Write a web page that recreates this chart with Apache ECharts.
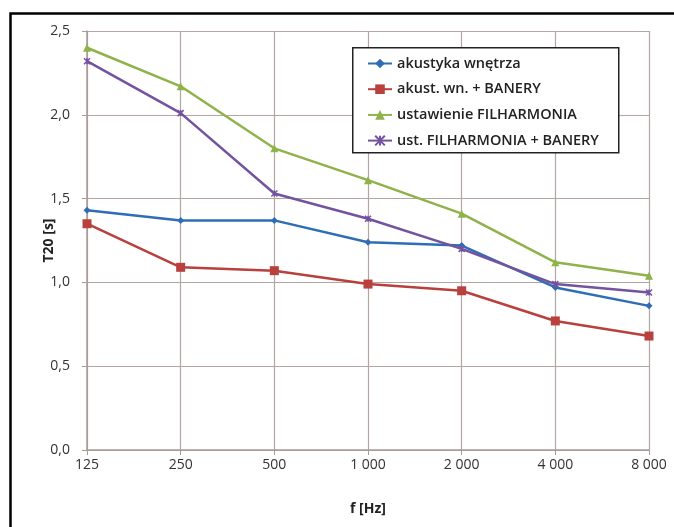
<!DOCTYPE html>
<html>
<head>
<meta charset="utf-8">
<script src="https://cdn.jsdelivr.net/npm/echarts@6/dist/echarts.min.js"></script>
<style>html,body{margin:0;padding:0;background:#fff}#c{width:674px;height:527px}</style>
</head>
<body>
<div id="c"></div>
<script>
const categories = ['125', '250', '500', '1 000', '2 000', '4 000', '8 000'];
const seriesNames = ['akustyka wnętrza', 'akust. wn. + BANERY', 'ustawienie FILHARMONIA', 'ust. FILHARMONIA + BANERY'];
const akustyka = [1.43, 1.37, 1.37, 1.24, 1.22, 0.97, 0.86];
const akustBanery = [1.35, 1.09, 1.07, 0.99, 0.95, 0.77, 0.68];
const filharmonia = [2.40, 2.17, 1.80, 1.61, 1.41, 1.12, 1.04];
const filharmoniaBanery = [2.32, 2.01, 1.53, 1.38, 1.20, 0.99, 0.94];

const colors = ['#2f6db5', '#b8413d', '#8fb24a', '#7352a0'];
const symbols = ['diamond', 'rect', 'triangle', 'path://M0,0L10,10M10,0L0,10M5,0L5,10'];
const sizes = [7, 9, 8, 6];
const dataSets = [akustyka, akustBanery, filharmonia, filharmoniaBanery];
const font = 'Open Sans';

const chart = echarts.init(document.getElementById('c'));
chart.setOption({
  animation: false,
  backgroundColor: '#fff',
  textStyle: { fontFamily: font },
  graphic: [{
    type: 'rect', left: 8, top: 11, shape: { width: 700, height: 600 },
    style: { fill: 'none', stroke: '#000', lineWidth: 2.5 }, z: 100
  }, {
    type: 'rect', left: 352, top: 47, shape: { width: 266, height: 105 },
    style: { fill: '#fff', stroke: '#222', lineWidth: 1.5 }, z: 50
  }],
  grid: { left: 87, right: 25, top: 31, bottom: 77 },
  legend: {
    orient: 'vertical', left: 362, top: 50, itemGap: 8.7, itemWidth: 24, itemHeight: 12,
    textStyle: { fontSize: 14.5, color: '#222', fontFamily: font, fontWeight: 600, lineHeight: 17 },
    z: 60,
    data: seriesNames
  },
  xAxis: {
    type: 'category', data: categories, boundaryGap: false,
    name: 'f [Hz]', nameLocation: 'middle', nameGap: 52,
    nameTextStyle: { fontSize: 14, fontWeight: 'bold', color: '#222' },
    axisLine: { lineStyle: { color: '#a89a96', width: 1.5 } },
    axisTick: { show: true, length: 5, lineStyle: { color: '#a89a96' } },
    axisLabel: { fontSize: 14, color: '#333', margin: 8 },
    splitLine: { show: true, lineStyle: { color: '#b3a6a2', width: 1.2 } }
  },
  yAxis: {
    type: 'value', min: 0, max: 2.5, interval: 0.5,
    name: 'T20 [s]', nameLocation: 'middle', nameGap: 31, nameMoveOverlap: false,
    nameTextStyle: { fontSize: 14, fontWeight: 'bold', color: '#222' },
    axisLine: { show: true, lineStyle: { color: '#a89a96', width: 1.5 } },
    axisTick: { show: true, length: 5, lineStyle: { color: '#a89a96' } },
    axisLabel: { fontSize: 14, color: '#333', margin: 17, formatter: v => v.toFixed(1).replace('.', ',') },
    splitLine: { show: true, lineStyle: { color: '#b3a6a2', width: 1.2 } }
  },
  series: seriesNames.map((n, i) => ({
    name: n, type: 'line', data: dataSets[i],
    symbol: symbols[i], symbolSize: sizes[i], showSymbol: true,
    itemStyle: { color: colors[i], borderColor: colors[i], borderWidth: i === 3 ? 1.5 : 0 },
    lineStyle: { color: colors[i], width: 2.5 },
    z: 10 + i
  }))
});
</script>
</body>
</html>
